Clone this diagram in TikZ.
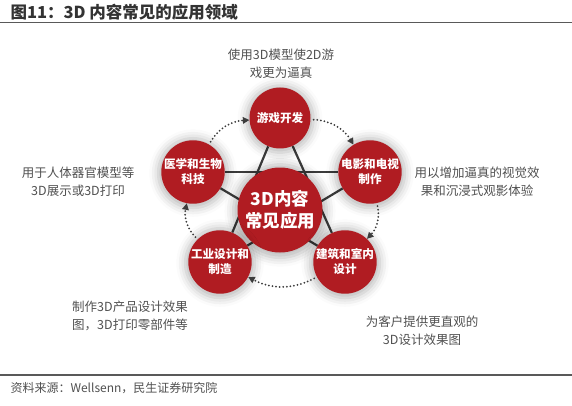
\documentclass[tikz,border=0pt]{standalone}
\usepackage{fontspec}
\setmainfont{Noto Sans CJK SC}
\usetikzlibrary{arrows.meta,shadows.blur,backgrounds}
\definecolor{appred}{HTML}{B01C22}
\definecolor{txtgray}{HTML}{505050}
\definecolor{linegray}{HTML}{3C3C3C}

\begin{document}
\begin{tikzpicture}[x=1pt,y=-1pt,
  glow/.style={blur shadow={shadow xshift=0pt,shadow yshift=-1pt,shadow scale=1.1,shadow blur radius=8pt,shadow opacity=28}},
  app/.style={circle,fill=appred,minimum size=61pt,inner sep=0pt,text=white,align=center,
    font=\fontsize{11.6}{15}\selectfont\bfseries,glow},
  core/.style={app,minimum size=85pt,font=\fontsize{17.5}{22}\selectfont\bfseries},
  note/.style={text=txtgray,align=center,font=\fontsize{12.5}{18}\selectfont},
  star/.style={draw=linegray,line width=2.2pt},
  cycle/.style={draw=linegray,line width=2pt,line cap=round,dash pattern=on 0pt off 3.6pt,
    -{Triangle[length=6.5pt,width=6.5pt]},shorten <=3pt}]
  \useasboundingbox (0,0) rectangle (572,406);
  % title and rules
  \node[anchor=west,text=black!80,font=\fontsize{16.5}{18}\selectfont\bfseries] (title) at (7,12) {图11：3D 内容常见的应用领域};
  \draw[line width=1.5pt,black!65] (0,22.5) -- (572,22.5);
  \draw[line width=1.5pt,black!65] (0,375) -- (572,375);
  \node[anchor=west,text=txtgray,font=\fontsize{12}{14}\selectfont] (source) at (7,388) {资料来源：Wellsenn，民生证券研究院};

  % centre and the five fields
  \node[core] (core) at (280,210) {3D内容\\常见应用};
  \foreach \n/\x/\y/\t in {game/280/118/{游戏开发},film/370/172/{电影和电视\\制作},
      arch/345/262/{建筑和室内\\设计},indus/220/262/{工业设计和\\制造},med/193/172/{医学和生物\\科技}} {
    \node[app] (\n) at (\x,\y) {\t};
  }

  % star behind the circles
  \begin{pgfonlayer}{background}
    \foreach \a/\b in {game/arch,game/indus,film/med,film/indus,arch/med}
      \draw[star] (\a) -- (\b);
  \end{pgfonlayer}

  % dotted cycle, clockwise
  \foreach \a/\b in {game/film,film/arch,arch/indus,indus/med,med/game}
    \draw[cycle] (\a) to[bend left=28] (\b);

  % notes
  \node[note] (gamenote) at (281,64) {使用3D模型使2D游\\戏更为逼真};
  \node[note] (filmnote) at (477,182) {用以增加逼真的视觉效\\果和沉浸式观影体验};
  \node[note] (mednote) at (78,182) {用于人体器官模型等\\3D展示或3D打印};
  \node[note] (indusnote) at (130,316) {制作3D产品设计效果\\图，3D打印零部件等};
  \node[note] (archnote) at (422,331) {为客户提供更直观的\\3D设计效果图};
\end{tikzpicture}
\end{document}
